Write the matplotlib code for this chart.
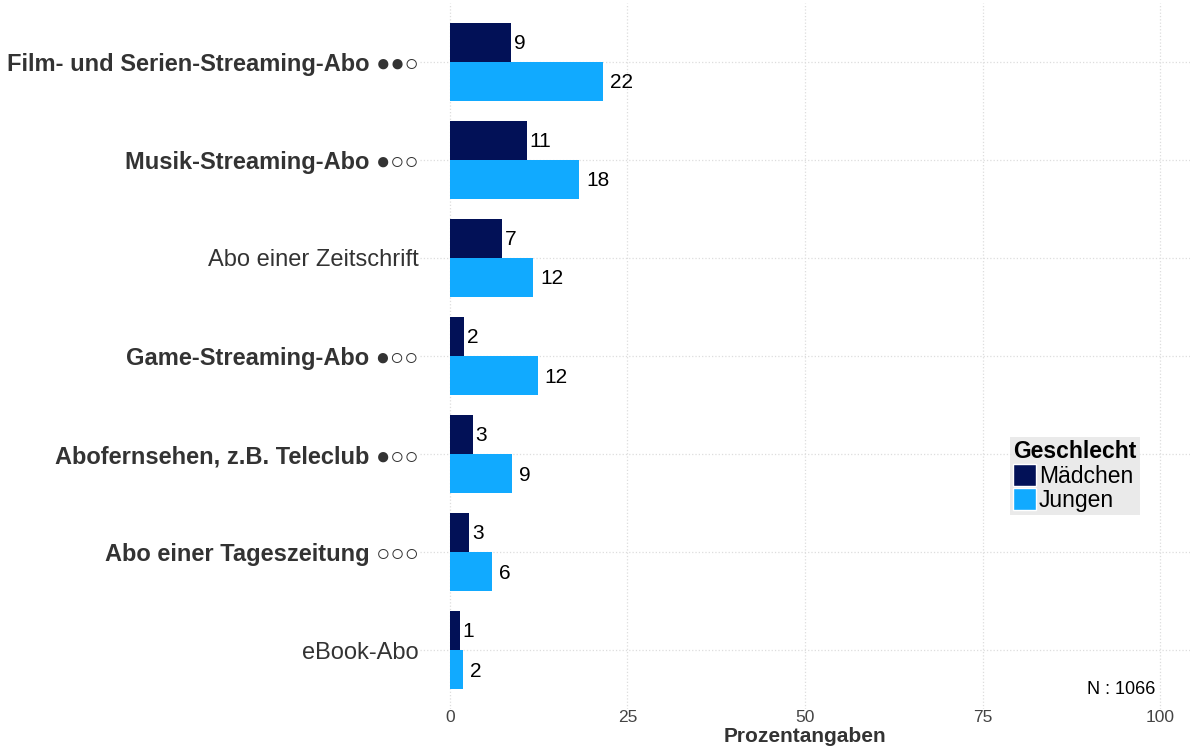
import matplotlib.pyplot as plt
import numpy as np

plt.rcParams['font.family'] = ['Liberation Sans', 'DejaVu Sans']

# data
categories = ['Film- und Serien-Streaming-Abo ●●○',
              'Musik-Streaming-Abo ●○○',
              'Abo einer Zeitschrift',
              'Game-Streaming-Abo ●○○',
              'Abofernsehen, z.B. Teleclub ●○○',
              'Abo einer Tageszeitung ○○○',
              'eBook-Abo']
bold_labels = [True, True, False, True, True, True, False]
maedchen = [8.6, 10.8, 7.4, 2.0, 3.2, 2.7, 1.4]
jungen = [21.6, 18.2, 11.7, 12.4, 8.8, 5.9, 1.8]
maedchen_lbl = [9, 11, 7, 2, 3, 3, 1]
jungen_lbl = [22, 18, 12, 12, 9, 6, 2]
xticks = [0, 25, 50, 75, 100]

col_m = '#021157'
col_j = '#11AAFF'

fig = plt.figure(figsize=(11.9, 7.51), dpi=100)
ax = fig.add_axes([420 / 1190, 42 / 751, 770 / 1190, 706 / 751])

y = np.arange(len(categories))
h = 0.4
ax.barh(y - h / 2, maedchen, height=h, color=col_m, label='Mädchen', zorder=2)
ax.barh(y + h / 2, jungen, height=h, color=col_j, label='Jungen', zorder=2)

for i in range(len(categories)):
    ax.annotate(str(maedchen_lbl[i]), (maedchen[i], y[i] - h / 2), xytext=(2, -1),
                textcoords='offset points', va='center', ha='left', fontsize=15)
    ax.annotate(str(jungen_lbl[i]), (jungen[i], y[i] + h / 2), xytext=(5, -1),
                textcoords='offset points', va='center', ha='left', fontsize=15)

ax.set_xlim(-4.2, 104.2)
ax.set_ylim(len(categories) - 0.4, -0.6)
ax.set_xticks(xticks)
ax.set_yticks(y)
ax.set_yticklabels(categories, fontsize=17, color='#333333')
for lbl, b in zip(ax.get_yticklabels(), bold_labels):
    if b:
        lbl.set_fontweight('bold')
ax.tick_params(axis='x', labelsize=12.5, labelcolor='#444444', length=0, pad=1)
ax.tick_params(axis='y', length=0, pad=1)
ax.set_xlabel('Prozentangaben', fontsize=15, fontweight='bold', color='#333333', labelpad=1)

ax.grid(True, color='#dddddd', linestyle=':', linewidth=0.9, zorder=0)
for s in ax.spines.values():
    s.set_visible(False)

ax.text(1155 / 1190, 61 / 751, 'N : 1066', transform=fig.transFigure,
        ha='right', va='center', fontsize=13)

leg = ax.legend(title='Geschlecht', loc='upper left', bbox_to_anchor=(1010 / 1190, 1 - 437 / 751),
                bbox_transform=fig.transFigure, fontsize=16.5, title_fontsize=16.5,
                frameon=True, fancybox=False, handlelength=1.0, handleheight=1.1,
                handletextpad=0.1, labelspacing=0.02, borderpad=0.15, borderaxespad=0)
leg.get_title().set_fontweight('bold')
leg._legend_box.align = 'left'
leg.get_frame().set_facecolor('#e5e5e5')
leg.get_frame().set_edgecolor('none')
for p in leg.get_patches():
    p.set_edgecolor('white')
    p.set_linewidth(1)

plt.savefig('out.png', dpi=100)
